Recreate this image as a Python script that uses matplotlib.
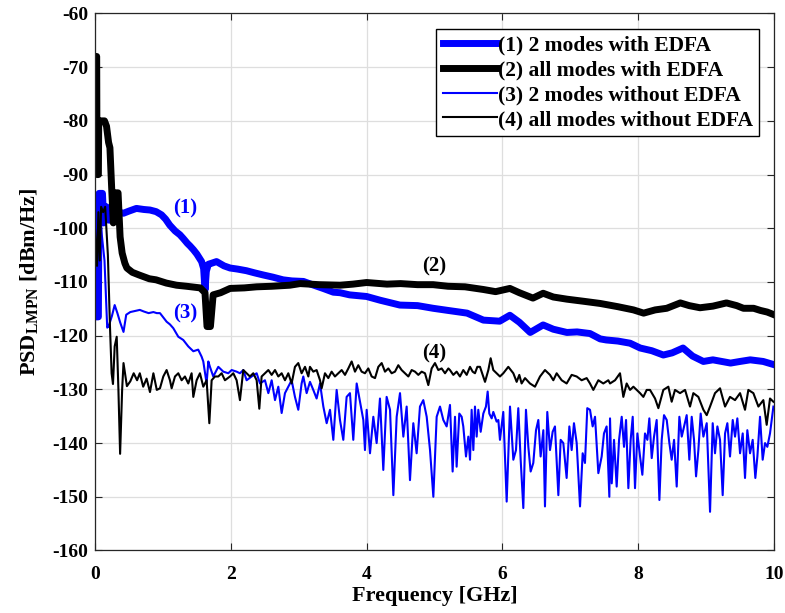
import numpy as np
import matplotlib.pyplot as plt

plt.rcParams['font.family'] = ['Liberation Serif', 'DejaVu Serif']
plt.rcParams['font.weight'] = 'bold'
plt.rcParams['axes.unicode_minus'] = False
plt.rcParams['mathtext.fontset'] = 'custom'
plt.rcParams['mathtext.rm'] = 'Liberation Serif:bold'
plt.rcParams['mathtext.bf'] = 'Liberation Serif:bold'

# (frequency GHz, PSD dBm/Hz)
s1 = np.array([(0.0, -99), (0.01, -116.5), (0.05, -116.5), (0.06, -93.5), (0.11, -93.5), (0.13, -99),
               (0.17, -96), (0.21, -98.5), (0.25, -96.5), (0.30, -97.5), (0.35, -97), (0.42, -97.2),
               (0.50, -96.8), (0.61, -96.3), (0.72, -96.5), (0.81, -96.6), (0.90, -96.9), (0.98, -97.5),
               (1.04, -98.3), (1.10, -99.4), (1.18, -100.5), (1.25, -101.2), (1.30, -101.9), (1.36, -102.8),
               (1.40, -103.3), (1.45, -104.0), (1.50, -104.8), (1.57, -106.2), (1.60, -107.5), (1.62, -111.5),
               (1.64, -108), (1.67, -106.7), (1.72, -106.5), (1.79, -106.2), (1.90, -107.0), (1.99, -107.4),
               (2.10, -107.6), (2.23, -107.9), (2.35, -108.3), (2.48, -108.7), (2.62, -109.1), (2.77, -109.6),
               (2.90, -109.8), (3.07, -109.9), (3.20, -110.5), (3.36, -111.2), (3.51, -111.9), (3.61, -112.0),
               (3.75, -112.4), (4.00, -112.7), (4.20, -113.4), (4.49, -114.3), (4.75, -114.4), (4.98, -114.9),
               (5.20, -115.3), (5.48, -115.8), (5.72, -117.1), (5.96, -117.3), (6.11, -116.2), (6.25, -117.5),
               (6.41, -119.4), (6.60, -118.0), (6.75, -118.8), (6.95, -119.4), (7.10, -119.3), (7.29, -119.6),
               (7.44, -120.6), (7.53, -120.8), (7.70, -121.0), (7.88, -121.4), (8.03, -122.3), (8.20, -122.8),
               (8.37, -123.6), (8.50, -123.2), (8.66, -122.3), (8.80, -123.8), (8.96, -124.8), (9.10, -124.5),
               (9.36, -125.1), (9.50, -124.8), (9.65, -124.5), (9.84, -124.8), (10.0, -125.4)])

s2 = np.array([(0.0, -68), (0.025, -68), (0.03, -90), (0.05, -90), (0.055, -80), (0.14, -80), (0.17, -81),
               (0.20, -84), (0.22, -85), (0.245, -92.3), (0.27, -99), (0.29, -97), (0.30, -93.4), (0.34, -93.4),
               (0.37, -101.6), (0.40, -104.6), (0.44, -106.5), (0.47, -107.4), (0.55, -108.2), (0.65, -108.7),
               (0.80, -109.4), (0.90, -109.6), (1.05, -110.2), (1.20, -110.6), (1.35, -110.8), (1.55, -111.1),
               (1.62, -112), (1.65, -118.3), (1.70, -118.3), (1.74, -112.4), (1.85, -112.0), (1.99, -111.2),
               (2.2, -111.1), (2.38, -110.9), (2.6, -110.8), (2.87, -110.6), (3.02, -110.3), (3.3, -110.5),
               (3.61, -110.6), (3.8, -110.4), (4.0, -110.1), (4.3, -110.4), (4.5, -110.3), (4.75, -110.5),
               (4.98, -110.5), (5.2, -110.8), (5.45, -110.9), (5.72, -111.4), (5.9, -111.8), (6.11, -111.2),
               (6.25, -112.0), (6.45, -113.0), (6.6, -112.1), (6.75, -112.8), (6.95, -113.2), (7.2, -113.6),
               (7.44, -114.0), (7.7, -114.6), (7.93, -115.2), (8.08, -115.8), (8.25, -115.2), (8.42, -114.9),
               (8.62, -113.9), (8.75, -114.4), (8.91, -114.8), (9.1, -114.5), (9.30, -113.9), (9.45, -114.4),
               (9.55, -114.9), (9.7, -114.9), (9.8, -115.3), (9.9, -115.6), (10.0, -116.1)])

s3 = np.array([(0.0, -99), (0.05, -112), (0.09, -100), (0.14, -106), (0.18, -118.5), (0.20, -118.3),
               (0.25, -116.3), (0.29, -114.3), (0.33, -115.8), (0.37, -117.5), (0.42, -119.3), (0.46, -116.1),
               (0.52, -115.6), (0.59, -115.4), (0.66, -115.2), (0.72, -115.5), (0.79, -115.8), (0.86, -115.6),
               (0.91, -115.8), (0.957, -115.8), (1.006, -116.6), (1.055, -117.4), (1.104, -117.9), (1.153, -118.6),
               (1.227, -120.2), (1.30, -120.8), (1.374, -122.0), (1.448, -122.9), (1.52, -122.6), (1.57, -123.9),
               (1.595, -124.8), (1.644, -128.9), (1.669, -124.8), (1.693, -125.8), (1.742, -127.6), (1.816, -125.8),
               (1.890, -126.7), (1.963, -127.0), (2.013, -126.4), (2.086, -126.7), (2.135, -127.0), (2.184, -126.4),
               (2.233, -128.3), (2.307, -127.6), (2.381, -127.0), (2.430, -128.9), (2.503, -128.3), (2.553, -130.7),
               (2.602, -128.3), (2.651, -132.0), (2.700, -129.5), (2.749, -134.4), (2.798, -130.7), (2.847, -129.5),
               (2.896, -128.3), (2.945, -131.4), (2.994, -133.8), (3.043, -128.9), (3.068, -127.6), (3.117, -130.7),
               (3.166, -128.6), (3.215, -130.1), (3.264, -131.7), (3.314, -128.9), (3.363, -133.2), (3.412, -136.3),
               (3.461, -133.8), (3.510, -139.4), (3.559, -130.1), (3.608, -135.7), (3.657, -139.4), (3.706, -131.4),
               (3.755, -130.7), (3.804, -139.4), (3.854, -128.9), (3.903, -132.3), (3.952, -135.7), (3.976, -141.3),
               (4.001, -133.8), (4.050, -141.9), (4.099, -135.1), (4.148, -140.0), (4.197, -131.7), (4.246, -145.0),
               (4.295, -131.4), (4.345, -133.8), (4.394, -149.7), (4.443, -135.1), (4.492, -130.7), (4.541, -138.8),
               (4.590, -133.2), (4.639, -146.9), (4.688, -136.3), (4.737, -141.9), (4.786, -133.2), (4.835, -132.0),
               (4.885, -135.1), (4.934, -141.3), (4.983, -150.0), (5.032, -135.1), (5.081, -133.2), (5.130, -135.7),
               (5.179, -136.9), (5.228, -132.9), (5.267, -145.3), (5.302, -135.1), (5.326, -144.4), (5.365, -134.5),
               (5.400, -135.1), (5.424, -136.9), (5.464, -142.5), (5.498, -138.8), (5.523, -143.1), (5.547, -133.8),
               (5.572, -141.3), (5.596, -133.2), (5.621, -138.8), (5.645, -133.8), (5.680, -137.9), (5.719, -134.5),
               (5.758, -133.2), (5.783, -130.4), (5.807, -134.5), (5.842, -135.4), (5.866, -134.2), (5.915, -136.0),
               (5.940, -135.7), (5.964, -139.4), (6.013, -134.2), (6.063, -150.9), (6.112, -133.2), (6.161, -143.1),
               (6.200, -141.3), (6.234, -133.5), (6.269, -143.1), (6.308, -152.1), (6.347, -133.8), (6.382, -140.7),
               (6.416, -145.3), (6.455, -143.7), (6.495, -137.6), (6.529, -135.7), (6.563, -142.5), (6.603, -137.6),
               (6.627, -151.8), (6.661, -134.2), (6.701, -141.3), (6.740, -137.9), (6.774, -136.9), (6.824, -149.7),
               (6.858, -139.4), (6.897, -140.0), (6.946, -146.5), (6.986, -136.9), (7.020, -141.3), (7.054, -136.3),
               (7.094, -140.0), (7.143, -151.8), (7.182, -141.9), (7.216, -143.7), (7.250, -133.5), (7.290, -133.8),
               (7.329, -136.9), (7.364, -135.1), (7.413, -145.6), (7.462, -142.5), (7.496, -138.2), (7.535, -136.9),
               (7.575, -150.0), (7.585, -135.4), (7.610, -147.5), (7.644, -139.4), (7.683, -148.1), (7.718, -139.4),
               (7.757, -135.1), (7.791, -140.7), (7.821, -135.7), (7.855, -148.4), (7.889, -139.4), (7.919, -135.1),
               (7.953, -148.4), (7.988, -138.2), (8.027, -142.5), (8.061, -145.9), (8.100, -138.2), (8.135, -139.4),
               (8.164, -135.4), (8.199, -142.8), (8.233, -138.8), (8.272, -135.7), (8.312, -150.6), (8.346, -139.4),
               (8.380, -134.8), (8.420, -135.7), (8.459, -140.0), (8.493, -143.1), (8.528, -139.4), (8.567, -148.1),
               (8.606, -135.1), (8.641, -138.8), (8.675, -136.9), (8.714, -134.8), (8.753, -143.1), (8.788, -135.1),
               (8.822, -139.4), (8.852, -146.2), (8.886, -141.3), (8.920, -134.5), (8.960, -138.8), (9.009, -136.3),
               (9.058, -152.8), (9.097, -136.3), (9.131, -141.9), (9.166, -136.9), (9.205, -139.4), (9.244, -149.7),
               (9.279, -138.2), (9.313, -136.3), (9.352, -142.5), (9.392, -135.7), (9.426, -138.8), (9.460, -135.4),
               (9.500, -141.9), (9.539, -138.2), (9.573, -146.5), (9.607, -137.6), (9.647, -141.9), (9.686, -139.4),
               (9.725, -146.5), (9.755, -142.5), (9.794, -135.1), (9.833, -143.1), (9.868, -140.0), (9.902, -140.7),
               (9.941, -138.2), (9.991, -133.2)])

s4 = np.array([(0.0, -100), (0.03, -107), (0.05, -97), (0.07, -106), (0.09, -96), (0.12, -97), (0.15, -96),
               (0.19, -105), (0.22, -118), (0.245, -127), (0.265, -129), (0.29, -122), (0.32, -120.2),
               (0.345, -130), (0.37, -142), (0.40, -130), (0.42, -125.1), (0.47, -129.4), (0.52, -128.5),
               (0.57, -127), (0.62, -128.3), (0.66, -127), (0.71, -129.5), (0.76, -128), (0.81, -130.5),
               (0.86, -127), (0.91, -130.1), (0.957, -129.8), (1.006, -127.6), (1.055, -126.4), (1.104, -128.3),
               (1.129, -129.8), (1.178, -127.6), (1.227, -127.0), (1.276, -128.3), (1.325, -127.6), (1.374, -128.9),
               (1.423, -127.0), (1.448, -131.4), (1.497, -128.3), (1.546, -127.0), (1.595, -129.5), (1.644, -128.3),
               (1.684, -136.3), (1.718, -128.3), (1.767, -127.6), (1.816, -127.6), (1.865, -127.0), (1.914, -128.3),
               (1.988, -127.6), (2.037, -127.0), (2.086, -128.3), (2.135, -132.0), (2.184, -126.4), (2.233, -127.0),
               (2.282, -127.6), (2.331, -127.0), (2.381, -128.3), (2.420, -133.6), (2.454, -127.6), (2.503, -127.0),
               (2.553, -126.4), (2.602, -127.3), (2.651, -126.4), (2.700, -127.6), (2.749, -127.0), (2.798, -128.3),
               (2.847, -127.0), (2.896, -128.9), (2.945, -125.8), (2.994, -125.1), (3.043, -127.0), (3.093, -125.8),
               (3.142, -127.6), (3.166, -125.8), (3.215, -126.7), (3.264, -126.4), (3.314, -128.3), (3.338, -129.8),
               (3.387, -127.0), (3.436, -127.9), (3.485, -126.7), (3.534, -127.6), (3.583, -127.0), (3.633, -126.4),
               (3.682, -127.3), (3.731, -126.1), (3.780, -124.8), (3.829, -126.7), (3.878, -125.5), (3.927, -126.7),
               (3.976, -127.0), (4.025, -126.1), (4.075, -127.6), (4.124, -127.9), (4.173, -125.8), (4.222, -125.1),
               (4.271, -126.7), (4.320, -126.1), (4.369, -127.0), (4.418, -126.7), (4.467, -125.5), (4.516, -126.4),
               (4.565, -127.0), (4.615, -127.6), (4.664, -126.4), (4.713, -126.7), (4.762, -127.3), (4.811, -126.7),
               (4.860, -127.0), (4.909, -129.2), (4.958, -126.1), (5.007, -125.1), (5.056, -126.4), (5.105, -126.1),
               (5.155, -127.0), (5.204, -126.1), (5.228, -126.4), (5.277, -127.3), (5.326, -126.7), (5.375, -127.6),
               (5.424, -126.4), (5.474, -127.3), (5.523, -125.8), (5.562, -126.7), (5.596, -127.0), (5.631, -125.8),
               (5.670, -125.8), (5.709, -127.3), (5.744, -128.6), (5.793, -126.4), (5.827, -124.2), (5.866, -126.4),
               (5.915, -127.0), (5.964, -127.6), (6.013, -127.0), (6.087, -125.8), (6.161, -127.0), (6.210, -128.6),
               (6.249, -127.3), (6.283, -128.9), (6.333, -127.9), (6.406, -128.9), (6.480, -129.5), (6.554, -127.6),
               (6.627, -126.4), (6.701, -127.3), (6.750, -128.3), (6.799, -127.0), (6.873, -128.3), (6.946, -128.9),
               (7.020, -127.3), (7.094, -127.6), (7.167, -128.3), (7.241, -127.9), (7.290, -128.9), (7.339, -130.1),
               (7.413, -128.3), (7.486, -128.9), (7.560, -128.3), (7.585, -128.9), (7.659, -128.3), (7.732, -127.0),
               (7.781, -131.4), (7.830, -128.9), (7.880, -130.1), (7.929, -129.5), (7.978, -130.1), (8.027, -130.7),
               (8.076, -131.4), (8.125, -130.1), (8.174, -130.1), (8.248, -131.7), (8.297, -133.5), (8.370, -130.1),
               (8.444, -129.5), (8.493, -132.3), (8.542, -130.1), (8.616, -130.7), (8.690, -130.1), (8.763, -133.2),
               (8.812, -130.7), (8.886, -131.4), (8.960, -133.8), (9.009, -134.8), (9.058, -133.2), (9.131, -130.7),
               (9.205, -129.8), (9.279, -133.2), (9.352, -131.4), (9.426, -132.0), (9.500, -130.7), (9.573, -133.8),
               (9.622, -130.1), (9.696, -130.7), (9.770, -133.2), (9.843, -132.0), (9.892, -136.6), (9.941, -131.7),
               (9.991, -132.3)])

labels = ['(1) 2 modes with EDFA', '(2) all modes with EDFA',
          '(3) 2 modes without EDFA', '(4) all modes without EDFA']

fig = plt.figure(figsize=(7.85, 6.13), dpi=100)
ax = fig.add_axes([0.121, 0.102, 0.865, 0.876])

ax.plot(s1[:, 0], s1[:, 1], color='#0000ff', lw=5, label=labels[0])
ax.plot(s2[:, 0], s2[:, 1], color='black', lw=5, label=labels[1])
ax.plot(s3[:, 0], s3[:, 1], color='#0000ff', lw=1.5, label=labels[2])
ax.plot(s4[:, 0], s4[:, 1], color='black', lw=1.5, label=labels[3])

ax.text(1.33, -96.3, '(1)', color='#0000ff', fontsize=15, fontweight='bold', ha='center', va='center')
ax.text(5.0, -107.2, '(2)', color='black', fontsize=15, fontweight='bold', ha='center', va='center')
ax.text(1.33, -115.8, '(3)', color='#0000ff', fontsize=15, fontweight='bold', ha='center', va='center')
ax.text(5.0, -123.3, '(4)', color='black', fontsize=15, fontweight='bold', ha='center', va='center')

ax.set_xlim(0, 10)
ax.set_ylim(-160, -60)
ax.set_xticks(np.arange(0, 11, 2))
ax.set_yticks(np.arange(-160, -59, 10))
ax.tick_params(direction='in', top=True, right=True, labelsize=14, length=5, color='#262626')
ax.tick_params(axis='x', pad=11)
ax.tick_params(axis='y', pad=5)
for lab in ax.get_xticklabels() + ax.get_yticklabels():
    lab.set_fontweight('bold')
for sp in ax.spines.values():
    sp.set_color('#262626')
    sp.set_linewidth(0.9)
ax.grid(True, color='#dedede', lw=0.9)
ax.set_axisbelow(True)

ax.set_xlabel('Frequency [GHz]', fontsize=16, fontweight='bold', labelpad=2)
ax.set_ylabel(r'PSD$_{\mathrm{LMPN}}$ [dBm/Hz]', fontsize=16, fontweight='bold', labelpad=8)

leg = ax.legend(loc='upper right', bbox_to_anchor=(0.978, 0.971), fontsize=15.5, frameon=True,
                fancybox=False, framealpha=1, edgecolor='black', handlelength=2.5,
                handletextpad=0.05, borderpad=0.3, labelspacing=0.22, borderaxespad=0)
leg.get_frame().set_linewidth(1.0)
for t in leg.get_texts():
    t.set_fontweight('bold')

fig.savefig('out.png', dpi=100)
